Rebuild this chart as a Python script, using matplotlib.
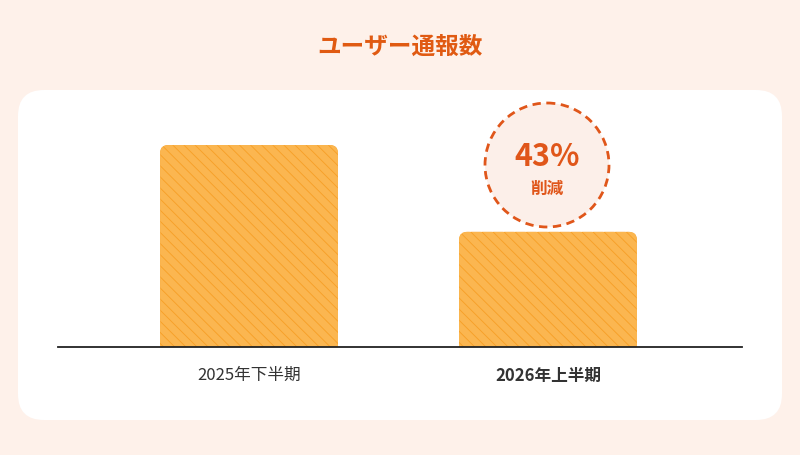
import matplotlib
matplotlib.use("Agg")
import matplotlib.pyplot as plt
from matplotlib.patches import FancyBboxPatch, Rectangle, Circle

plt.rcParams['font.family'] = ['Noto Sans CJK JP', 'DejaVu Sans']
plt.rcParams['hatch.linewidth'] = 5

categories = ["2025年下半期", "2026年上半期"]
values = [100, 57]
title = "ユーザー通報数"
badge_pct = "43%"
badge_txt = "削減"

W, H = 800, 455
fig = plt.figure(figsize=(8, 4.55), dpi=100)
fig.patch.set_facecolor('#FEF1EA')

# white panel
bg = fig.add_axes([0, 0, 1, 1]); bg.set_xlim(0, W); bg.set_ylim(H, 0); bg.axis('off')
bg.add_patch(FancyBboxPatch((18, 90), 764, 330, boxstyle="round,pad=0,rounding_size=26",
                            fc='white', ec='none'))
bg.text(400, 47, title, ha='center', va='center', fontsize=17, fontweight='bold', color='#E05A12')

ax = fig.add_axes([58/W, (H-347)/H, 684/W, 247/H])
ax.set_facecolor('none')
ax.set_xlim(-0.639, 1.649)
ax.set_ylim(0, 122.3)
for s in ['top', 'right', 'left']:
    ax.spines[s].set_visible(False)
ax.spines['bottom'].set_color('#222222'); ax.spines['bottom'].set_linewidth(1.3)
ax.set_yticks([])
ax.set_xticks(range(len(categories)))
ax.set_xticklabels(categories, fontsize=12, color='#333333')
ax.get_xticklabels()[1].set_fontweight('bold')
ax.tick_params(axis='x', length=0, pad=14)

bw = 0.595
rx = 0.027
for i, v in enumerate(values):
    x0 = i - bw/2
    for hatch_patch in (True,):
        p1 = FancyBboxPatch((x0, 0), bw, v, boxstyle=f"round,pad=0,rounding_size={rx}",
                            mutation_aspect=4.0/rx, fc='#F7A028', ec='#FBB650', lw=0,
                            hatch='\\\\\\', zorder=2)
        ax.add_patch(p1)
        p2 = Rectangle((x0, 0), bw, min(10, v), fc='#F7A028', ec='#FBB650', lw=0,
                       hatch='\\\\\\', zorder=2)
        ax.add_patch(p2)

# badge
bg.add_patch(Circle((547, 165), 62, fc='#FCEFE9', ec='#E0561A', lw=2, ls=(0, (3, 2)), zorder=3))
bg.text(547, 157, badge_pct, ha='center', va='center', fontsize=22, fontweight='bold',
        color='#E0561A', zorder=4)
bg.text(547, 189, badge_txt, ha='center', va='center', fontsize=12, fontweight='bold',
        color='#E0561A', zorder=4)

fig.savefig('out.png', dpi=100, facecolor=fig.get_facecolor())
